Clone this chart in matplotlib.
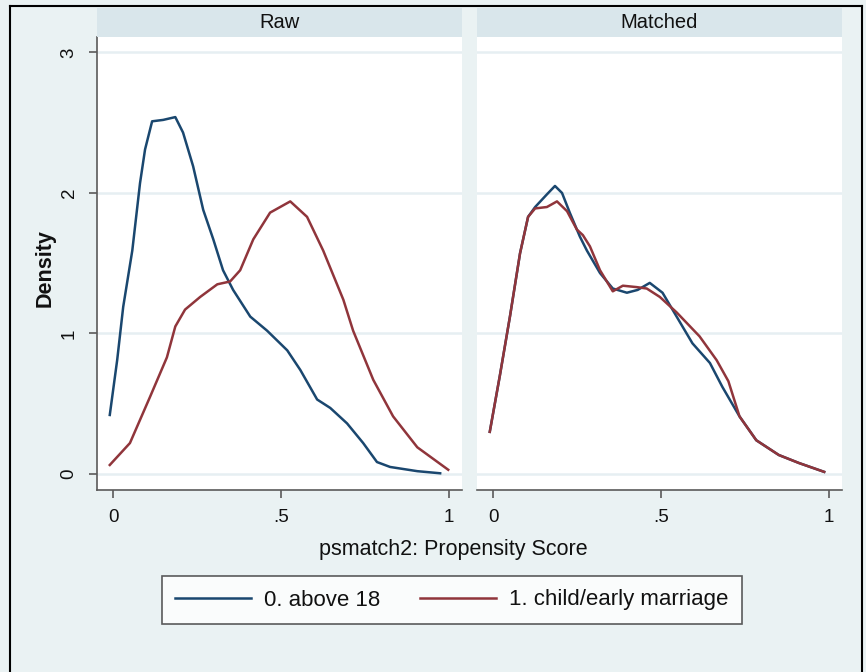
## Propensity score density before / after matching (Stata style twoway by())

import numpy as np
import matplotlib.pyplot as plt
from matplotlib.lines import Line2D

plt.rcParams['font.family'] = ['Liberation Sans', 'DejaVu Sans']

# Panel titles and legend labels
panels = ['Raw', 'Matched']
groups = ['0. above 18', '1. child/early marriage']

# Raw sample, group 0 (above 18)
raw_x0 = [-0.01, 0.012, 0.03, 0.057, 0.08, 0.095, 0.116, 0.149, 0.185, 0.208, 0.238, 0.268, 0.298,
          0.327, 0.357, 0.408, 0.458, 0.518, 0.557, 0.607, 0.646, 0.696, 0.744, 0.785, 0.824, 0.905, 0.973]
raw_y0 = [0.42, 0.81, 1.19, 1.59, 2.07, 2.31, 2.51, 2.52, 2.54, 2.43, 2.19, 1.88, 1.67,
          1.45, 1.31, 1.12, 1.02, 0.88, 0.74, 0.53, 0.47, 0.36, 0.22, 0.085, 0.05, 0.02, 0.005]

# Raw sample, group 1 (child/early marriage)
raw_x1 = [-0.01, 0.05, 0.11, 0.16, 0.185, 0.214, 0.259, 0.31, 0.348, 0.378, 0.417, 0.467, 0.527,
          0.577, 0.625, 0.685, 0.714, 0.774, 0.833, 0.905, 0.997]
raw_y1 = [0.064, 0.22, 0.55, 0.83, 1.05, 1.17, 1.26, 1.35, 1.37, 1.45, 1.67, 1.86, 1.94,
          1.83, 1.59, 1.24, 1.02, 0.67, 0.41, 0.19, 0.03]

# Matched sample, group 0
mat_x0 = [-0.01, 0.02, 0.05, 0.08, 0.104, 0.125, 0.16, 0.184, 0.205, 0.228, 0.258, 0.279, 0.318, 0.356,
          0.398, 0.43, 0.466, 0.504, 0.546, 0.593, 0.645, 0.682, 0.733, 0.783, 0.85, 0.91, 0.985]
mat_y0 = [0.30, 0.70, 1.12, 1.57, 1.83, 1.90, 1.99, 2.05, 2.00, 1.86, 1.69, 1.59, 1.43, 1.32,
          1.29, 1.31, 1.36, 1.29, 1.12, 0.93, 0.79, 0.62, 0.41, 0.24, 0.135, 0.078, 0.015]

# Matched sample, group 1
mat_x1 = [-0.01, 0.02, 0.05, 0.08, 0.104, 0.125, 0.16, 0.19, 0.22, 0.249, 0.267, 0.288, 0.318, 0.356,
          0.386, 0.427, 0.457, 0.496, 0.546, 0.614, 0.665, 0.70, 0.733, 0.783, 0.85, 0.91, 0.985]
mat_y1 = [0.30, 0.70, 1.12, 1.57, 1.83, 1.89, 1.90, 1.94, 1.87, 1.74, 1.70, 1.62, 1.45, 1.30,
          1.34, 1.33, 1.32, 1.26, 1.15, 0.98, 0.81, 0.66, 0.41, 0.24, 0.135, 0.078, 0.015]

yticks = [0, 1, 2, 3]
xticks = [0, 0.5, 1]
xtick_labels = ['0', '.5', '1']

# Stata s2color-ish colours
bg = '#EAF2F3'
strip_col = '#D9E6EB'
grid_col = '#E6EFF2'
axis_col = '#5A5A5A'
txt_col = '#111111'
c0 = '#1A476F'
c1 = '#90353B'

W, H = 866, 672
fig = plt.figure(figsize=(W / 100, H / 100), dpi=100, facecolor=bg)

def fx(px):
    return px / W

def fy(py):
    return 1 - py / H

data = [((raw_x0, raw_y0), (raw_x1, raw_y1)), ((mat_x0, mat_y0), (mat_x1, mat_y1))]
lefts = [97, 477]
pw = 365

for i, (name, curves) in enumerate(zip(panels, data)):
    ax = fig.add_axes([fx(lefts[i]), fy(490), fx(pw), (490 - 37) / H])
    ax.set_facecolor('white')
    for y in yticks:
        ax.axhline(y, color=grid_col, lw=1.8, zorder=0)
    (x0, y0), (x1, y1) = curves
    ax.plot(x0, y0, color=c0, lw=1.8)
    ax.plot(x1, y1, color=c1, lw=1.8)
    ax.set_xlim(-0.048, 1.038)
    ax.set_ylim(-0.114, 3.11)
    for s in ['top', 'right']:
        ax.spines[s].set_visible(False)
    ax.spines['bottom'].set_color(axis_col)
    ax.spines['bottom'].set_linewidth(1.2)
    ax.set_xticks(xticks)
    ax.set_xticklabels(xtick_labels, fontsize=13.5)
    ax.tick_params(axis='x', colors=axis_col, length=6, width=1.2, pad=8, labelcolor=txt_col)
    if i == 0:
        ax.spines['left'].set_color(axis_col)
        ax.spines['left'].set_linewidth(1.2)
        ax.set_yticks(yticks)
        ax.set_yticklabels([str(t) for t in yticks], fontsize=13.5, rotation=90, va='center')
        ax.tick_params(axis='y', colors=axis_col, length=6, width=1.2, pad=8, labelcolor=txt_col)
    else:
        ax.spines['left'].set_visible(False)
        ax.set_yticks([])

    # strip with panel title
    sax = fig.add_axes([fx(lefts[i]), fy(37), fx(pw), 29 / H])
    sax.set_facecolor(strip_col)
    sax.set_xticks([])
    sax.set_yticks([])
    for s in sax.spines.values():
        s.set_visible(False)
    sax.text(0.5, 0.5, name, ha='center', va='center', fontsize=14.5, color=txt_col,
             transform=sax.transAxes)

# axis titles
fig.text(fx(45), fy(268), 'Density', rotation=90, ha='center', va='center',
         fontsize=15.5, fontweight='bold', color=txt_col)
fig.text(fx(453), fy(549), 'psmatch2: Propensity Score', ha='center', va='center',
         fontsize=15.5, color=txt_col)

# legend
handles = [Line2D([], [], color=c0, lw=1.8), Line2D([], [], color=c1, lw=1.8)]
leg = fig.legend(handles, groups, ncol=2, loc='center', bbox_to_anchor=(fx(452), fy(600)),
                 fontsize=16, frameon=True, fancybox=False, handlelength=3.4,
                 columnspacing=1.8, handletextpad=0.6, borderpad=0.6, borderaxespad=0)
leg.get_frame().set_edgecolor('#333333')
leg.get_frame().set_linewidth(1.2)
for t in leg.get_texts():
    t.set_color(txt_col)

# black outer border (bottom edge is cropped in the original)
fig.add_artist(Line2D([fx(10), fx(10)], [0, fy(6)], color='black', lw=1.5))
fig.add_artist(Line2D([fx(10), fx(862)], [fy(6), fy(6)], color='black', lw=1.5))
fig.add_artist(Line2D([fx(862), fx(862)], [0, fy(6)], color='black', lw=1.5))

plt.savefig('out.png', dpi=100, facecolor=bg)
